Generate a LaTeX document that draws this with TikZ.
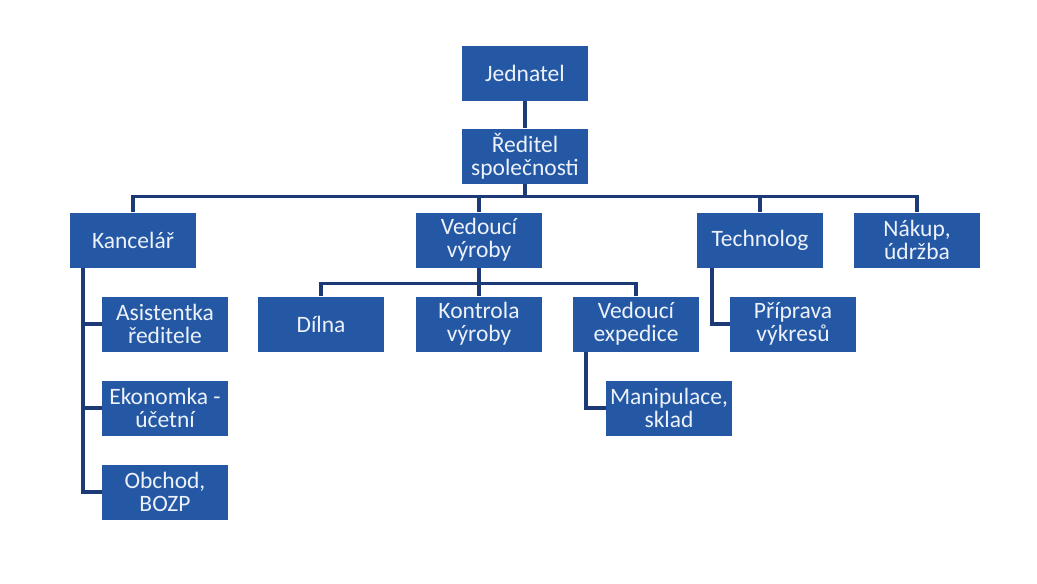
\documentclass[tikz,border=0pt]{standalone}
\usepackage{fontspec}
\setmainfont{Carlito}
\definecolor{boxblue}{RGB}{36,88,164}
\definecolor{lineblue}{RGB}{28,58,118}
\definecolor{labelwhite}{RGB}{236,241,250}
\tikzset{
  unit/.style={fill=boxblue, text=labelwhite, align=center,
    minimum width=126pt, minimum height=55pt, inner sep=1pt,
    font=\fontsize{23.5}{23}\selectfont},
  link/.style={draw=lineblue, line width=3.5pt},
}
\begin{document}
\begin{tikzpicture}[x=1pt,y=-1pt]
      \useasboundingbox (0,0) rectangle (1037,584);

      \node[unit] (jed) at (525,73) {Jednatel};
      \node[unit] (red) at (525,156) {Ředitel\\společnosti};

      \node[unit] (kanc) at (133,240) {Kancelář};
      \node[unit] (vyr) at (479,240) {Vedoucí\\výroby};
      \node[unit] (tech) at (760,240) {Technolog};
      \node[unit] (nakup) at (917,240) {Nákup,\\údržba};

      \node[unit] (asist) at (165,324) {Asistentka\\ředitele};
      \node[unit] (ekon) at (165,408) {Ekonomka -\\účetní};
      \node[unit] (obch) at (165,492) {Obchod,\\BOZP};

      \node[unit] (dilna) at (321,324) {Dílna};
      \node[unit] (kontr) at (479,324) {Kontrola\\výroby};
      \node[unit] (exped) at (636,324) {Vedoucí\\expedice};
      \node[unit] (manip) at (669,408) {Manipulace,\\sklad};
      \node[unit] (prip) at (793,324) {Příprava\\výkresů};

      \draw[link] (jed) -- (red);
      \draw[link] (kanc.north) -- ++(0,-16) coordinate (bus) -| (nakup.north);
      \draw[link] (red.south) -- (red.south |- bus);
      \draw[link] (vyr.north) -- (vyr.north |- bus);
      \draw[link] (tech.north) -- (tech.north |- bus);

      \draw[link] (dilna.north) -- ++(0,-13) -| (exped.north);
      \draw[link] (vyr.south) -- (kontr.north);

      \foreach \n in {asist,ekon,obch}
        \draw[link] ([xshift=-50pt]kanc.south) |- (\n.west);
      \draw[link] ([xshift=-50pt]exped.south) |- (manip.west);
      \draw[link] ([xshift=-48pt]tech.south) |- (prip.west);
    \end{tikzpicture}
\end{document}
